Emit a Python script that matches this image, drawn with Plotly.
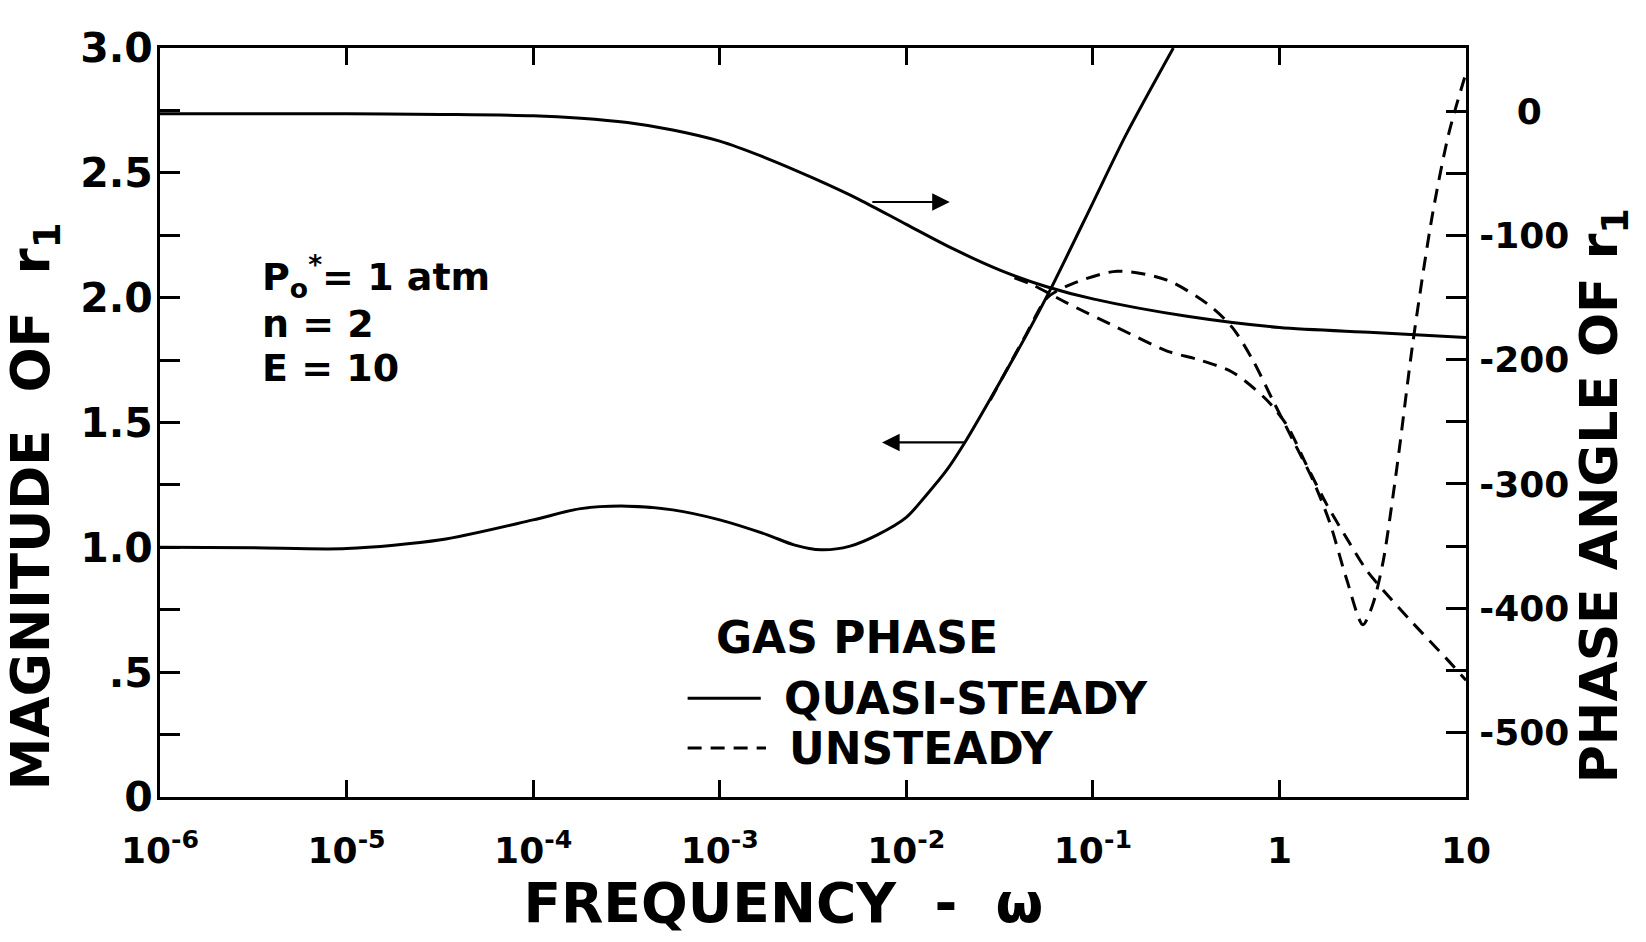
import plotly.graph_objects as go

# ---------------- data ----------------
# Quasi-steady magnitude (left axis)
w_mag_qs = [1e-6, 3.2e-6, 1e-5, 3.2e-5, 1e-4, 1.8e-4, 3.2e-4, 5.6e-4, 1e-3, 1.8e-3,
            2.5e-3, 3.5e-3, 5e-3, 7e-3, 1e-2, 1.25e-2, 1.65e-2, 2.1e-2, 2.9e-2,
            4.4e-2, 5.9e-2, 0.1, 0.15, 0.27]
mag_qs = [1.00, 0.998, 0.995, 1.03, 1.11, 1.155, 1.165, 1.15, 1.11, 1.05,
          1.01, 0.99, 1.005, 1.05, 1.12, 1.20, 1.31, 1.43, 1.61,
          1.85, 2.03, 2.38, 2.65, 3.0]

# Quasi-steady phase angle (right axis)
w_ph_qs = [1e-6, 1e-5, 3.2e-5, 1e-4, 1.8e-4, 3.2e-4, 5.6e-4, 1e-3, 1.8e-3, 3.2e-3,
           5.6e-3, 1e-2, 1.8e-2, 3.2e-2, 5.6e-2, 0.1, 0.32, 1, 3.2, 10]
ph_qs = [-2, -2, -2.5, -3.5, -5.5, -9, -15, -24, -38, -54,
         -71, -91, -111, -128, -141, -151, -165, -174, -178, -182]

# Unsteady magnitude (left axis)
w_mag_us = [0.0282, 0.0437, 0.057, 0.078, 0.135, 0.25, 0.42, 0.56, 0.72, 0.92,
            1.18, 1.51, 1.86, 2.29, 2.8, 3.16, 3.59, 4.07, 4.42, 5.19, 6.6, 8.1, 10]
mag_us = [1.59, 1.85, 2.0, 2.056, 2.106, 2.07, 1.97, 1.88, 1.75, 1.59,
          1.43, 1.27, 1.10, 0.873, 0.69, 0.77, 0.94, 1.21, 1.41, 1.82, 2.33, 2.66, 2.90]

# Unsteady phase angle (right axis)
w_ph_us = [0.038, 0.048, 0.072, 0.135, 0.25, 0.37, 0.56, 0.85, 1.1, 1.4,
           1.8, 2.3, 2.95, 3.77, 5.19, 7.9, 10]
ph_us = [-134, -140, -154, -174, -193, -200, -210, -232, -253, -285,
         -317, -344, -370, -389, -412, -441, -458]

x_tickvals = [1e-6, 1e-5, 1e-4, 1e-3, 1e-2, 1e-1, 1, 10]
x_ticktext = ["10<sup>-6</sup>", "10<sup>-5</sup>", "10<sup>-4</sup>", "10<sup>-3</sup>",
              "10<sup>-2</sup>", "10<sup>-1</sup>", "1", "10"]
y_tickvals = [0, 0.25, 0.5, 0.75, 1.0, 1.25, 1.5, 1.75, 2.0, 2.25, 2.5, 2.75, 3.0]
y_ticktext = ["0", "", ".5", "", "1.0", "", "1.5", "", "2.0", "", "2.5", "", "3.0"]
y2_tickvals = [-500, -450, -400, -350, -300, -250, -200, -150, -100, -50, 0]
y2_ticktext = ["-500", "", "-400", "", "-300", "", "-200", "", "-100", "", "\u00a0\u00a0\u00a00"]

FONT = "DejaVu Sans"
NB = "\u00a0"
PAD = '<span style="color:rgba(0,0,0,0)">.</span>'  # invisible end mark keeps padding

fig = go.Figure()
line_solid = dict(color="black", width=3, shape="spline", smoothing=0.8)
line_dash = dict(color="black", width=3, dash="14px,9px", shape="spline", smoothing=0.8)

fig.add_trace(go.Scatter(x=w_mag_qs, y=mag_qs, mode="lines", line=line_solid,
                         name="QUASI-STEADY", showlegend=False))
fig.add_trace(go.Scatter(x=w_ph_qs, y=ph_qs, mode="lines", line=line_solid,
                         name="QUASI-STEADY", yaxis="y2", showlegend=False))
fig.add_trace(go.Scatter(x=w_mag_us, y=mag_us, mode="lines", line=line_dash,
                         name="UNSTEADY", showlegend=False))
fig.add_trace(go.Scatter(x=w_ph_us, y=ph_us, mode="lines", line=line_dash,
                         name="UNSTEADY", yaxis="y2", showlegend=False))

xtickfont = dict(family=FONT, size=36, color="black", weight="bold")
ytickfont = dict(family=FONT, size=41, color="black", weight="bold")
y2tickfont = dict(family=FONT, size=36, color="black", weight="bold")

fig.update_layout(
    width=1646, height=942,
    margin=dict(l=160, r=180, t=48, b=145),
    paper_bgcolor="white", plot_bgcolor="white",
    font=dict(family=FONT, color="black"),
    xaxis=dict(type="log", range=[-6, 1], showgrid=False, zeroline=False,
               showline=True, linecolor="black", linewidth=3, mirror="ticks",
               ticks="inside", ticklen=17, tickwidth=2.5, tickcolor="black",
               tickvals=x_tickvals, ticktext=x_ticktext, tickfont=xtickfont,
               ticklabelstandoff=20,
               title=dict(text="FREQUENCY" + NB * 2 + "-" + NB * 2 + "\u03c9" + NB * 2 + PAD,
                          font=dict(family=FONT, size=55, color="black", weight="bold"),
                          standoff=10)),
    yaxis=dict(range=[0, 3], showgrid=False, zeroline=False,
               showline=True, linecolor="black", linewidth=3,
               ticks="inside", ticklen=20, tickwidth=2.5, tickcolor="black",
               tickvals=y_tickvals, ticktext=y_ticktext, tickfont=ytickfont,
               ticklabelstandoff=-4,
               title=dict(text="MAGNITUDE" + NB * 2 + "OF" + NB * 2 + "r<sub>1</sub>" + NB * 8 + PAD,
                          font=dict(family=FONT, size=53, color="black", weight="bold"),
                          standoff=14)),
    yaxis2=dict(range=[-552, 51], overlaying="y", side="right", showgrid=False,
                zeroline=False, showline=True, linecolor="black", linewidth=3,
                ticks="inside", ticklen=20, tickwidth=2.5, tickcolor="black",
                tickvals=y2_tickvals, ticktext=y2_ticktext, tickfont=y2tickfont,
                ticklabelstandoff=3,
                title=dict(text="PHASE" + NB + "ANGLE" + NB + "OF" + NB + "r<sub>1</sub>" + NB * 7 + PAD,
                           font=dict(family=FONT, size=52, color="black", weight="bold"),
                           standoff=10)),
)

# arrows pointing to the axis each solid curve belongs to
fig.add_annotation(x=-1.767, y=-73, xref="x", yref="y2", ax=-2.19, ay=-73,
                   axref="x", ayref="y2", text="", showarrow=True,
                   arrowhead=2, arrowsize=1.6, arrowwidth=2.2, arrowcolor="black")
fig.add_annotation(x=-2.13, y=1.42, xref="x", yref="y", ax=-1.68, ay=1.42,
                   axref="x", ayref="y", text="", showarrow=True,
                   arrowhead=2, arrowsize=1.6, arrowwidth=2.2, arrowcolor="black")

# parameter text
ann_font = dict(family=FONT, size=38, color="black", weight="bold")
params = ["P<sub>o</sub><sup>*</sup>= 1 atm", "n" + NB + "= 2", "E" + NB + "= 10"]
param_y = [0.695, 0.632, 0.573]
for t, yy in zip(params, param_y):
    fig.add_annotation(x=0.0766, y=yy, xref="paper", yref="paper", text=t,
                       showarrow=False, xanchor="left", yanchor="middle", font=ann_font)

# key
key_font = dict(family=FONT, size=44, color="black", weight="bold")
fig.add_annotation(x=0.424, y=0.2136, xref="paper", yref="paper", text="GAS PHASE",
                   showarrow=False, xanchor="left", yanchor="middle", font=key_font)
fig.add_annotation(x=0.476, y=0.132, xref="paper", yref="paper", text="QUASI-STEADY",
                   showarrow=False, xanchor="left", yanchor="middle", font=key_font)
fig.add_annotation(x=0.480, y=0.0654, xref="paper", yref="paper", text="UNSTEADY",
                   showarrow=False, xanchor="left", yanchor="middle", font=key_font)
fig.add_shape(type="line", xref="paper", yref="paper", x0=0.404, x1=0.460, y0=0.132, y1=0.132,
              line=dict(color="black", width=3))
fig.add_shape(type="line", xref="paper", yref="paper", x0=0.404, x1=0.464, y0=0.0654, y1=0.0654,
              line=dict(color="black", width=3, dash="14px,9px"))

fig.write_html("out.html")
